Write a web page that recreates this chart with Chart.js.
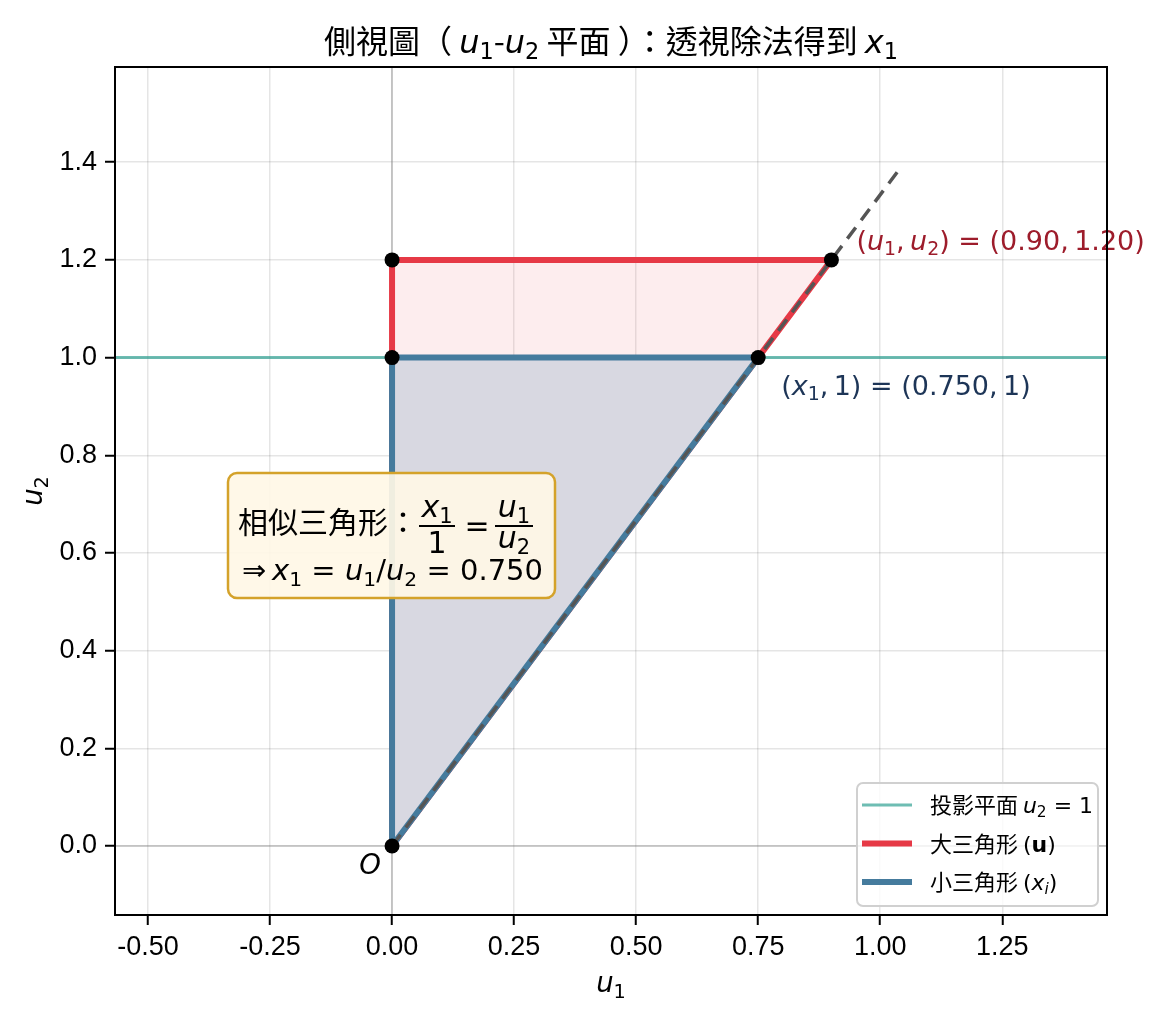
<!DOCTYPE html>
<html>
<head>
<meta charset="utf-8">
<script src="https://cdn.jsdelivr.net/npm/chart.js@4.4.1/dist/chart.umd.min.js"></script>
<style>
  html, body { margin: 0; padding: 0; background: #fff; }
  #wrap { width: 1162px; height: 1019px; }
</style>
</head>
<body>
<div id="wrap"><canvas id="sideView" width="1162" height="1019"></canvas></div>
<script>
// --- data ---
const xTicks = [-0.5, -0.25, 0, 0.25, 0.5, 0.75, 1.0, 1.25];
const yTicks = [0, 0.2, 0.4, 0.6, 0.8, 1.0, 1.2, 1.4];
const xRange = [-0.5675, 1.4645];
const yRange = [-0.1414, 1.595];

const planeU1 = [-0.5675, 1.4645];
const planeU2 = [1, 1];
const bigU1 = [0, 0, 0.9, 0];
const bigU2 = [0, 1.2, 1.2, 0];
const smallU1 = [0, 0, 0.75, 0];
const smallU2 = [0, 1, 1, 0];
const rayU1 = [0, 1.035];
const rayU2 = [0, 1.38];
const pointU1 = [0, 0, 0, 0.75, 0.9];
const pointU2 = [0, 1, 1.2, 1, 1.2];

const RED = '#e63946';
const BLUE = '#457b9d';
const TEAL = 'rgba(42,157,143,0.68)';

const toXY = (xs, ys) => xs.map((x, i) => ({ x: x, y: ys[i] }));

// --- rich text helpers (CJK / italic / subscript) ---
const FAM_CJK = '"Noto Sans CJK TC", "Noto Sans CJK SC", sans-serif';
const FAM_MATH = '"DejaVu Sans", sans-serif';

function partFont(p, size) {
    const s = p.sub ? size * 0.7 : size;
    if (p.f === 'cjk') return `${s}px ${FAM_CJK}`;
    if (p.f === 'it') return `italic ${s}px ${FAM_MATH}`;
    if (p.f === 'bf') return `bold ${s}px ${FAM_MATH}`;
    return `${s}px ${FAM_MATH}`;
}

function richWidth(ctx, parts, size) {
    let w = 0;
    parts.forEach(p => { ctx.font = partFont(p, size); w += ctx.measureText(p.t).width; });
    return w;
}

function drawRich(ctx, parts, x, y, size, color, align) {
    const w = richWidth(ctx, parts, size);
    let cx = align === 'center' ? x - w / 2 : (align === 'right' ? x - w : x);
    ctx.save();
    ctx.fillStyle = color;
    ctx.textBaseline = 'alphabetic';
    ctx.textAlign = 'left';
    parts.forEach(p => {
        ctx.font = partFont(p, size);
        ctx.fillText(p.t, cx, p.sub ? y + size * 0.2 : y);
        cx += ctx.measureText(p.t).width;
    });
    ctx.restore();
    return w;
}

function roundRect(ctx, x, y, w, h, r) {
    ctx.beginPath();
    ctx.moveTo(x + r, y);
    ctx.arcTo(x + w, y, x + w, y + h, r);
    ctx.arcTo(x + w, y + h, x, y + h, r);
    ctx.arcTo(x, y + h, x, y, r);
    ctx.arcTo(x, y, x + w, y, r);
    ctx.closePath();
}

// --- plugins ---
const backgroundPlugin = {
    id: 'axesDecor',
    beforeDatasetsDraw(chart) {
        const { ctx, chartArea: a, scales: { x, y } } = chart;
        ctx.save();
        ctx.strokeStyle = 'rgba(128,128,128,0.45)';
        ctx.lineWidth = 1.6;
        ctx.beginPath();
        ctx.moveTo(a.left, y.getPixelForValue(0));
        ctx.lineTo(a.right, y.getPixelForValue(0));
        ctx.moveTo(x.getPixelForValue(0), a.top);
        ctx.lineTo(x.getPixelForValue(0), a.bottom);
        ctx.stroke();
        ctx.restore();
    },
    afterDatasetsDraw(chart) {
        const { ctx, chartArea: a, scales: { x, y } } = chart;

        // point labels
        const px = v => x.getPixelForValue(v);
        const py = v => y.getPixelForValue(v);
        drawRich(ctx, [
            { t: '(', f: 'rm' }, { t: 'u', f: 'it' }, { t: '1', f: 'rm', sub: true },
            { t: ',\u2009', f: 'rm' }, { t: 'u', f: 'it' }, { t: '2', f: 'rm', sub: true },
            { t: ') = (0.90,\u20091.20)', f: 'rm' }
        ], px(0.9) + 25, py(1.2) - 10, 27, '#9d1c2b', 'left');
        drawRich(ctx, [
            { t: '(', f: 'rm' }, { t: 'x', f: 'it' }, { t: '1', f: 'rm', sub: true },
            { t: ',\u20091) = (0.750,\u20091)', f: 'rm' }
        ], px(0.75) + 23, py(1) + 37, 27, '#1d3557', 'left');
        drawRich(ctx, [{ t: 'O', f: 'it' }], px(0) - 22, py(0) + 28, 27.5, '#000', 'center');

        // similar-triangle box
        const bx = a.left + 113, by = a.top + 406, bw = 327, bh = 125;
        ctx.save();
        roundRect(ctx, bx, by, bw, bh, 9);
        ctx.fillStyle = 'rgba(255,247,230,0.92)';
        ctx.fill();
        ctx.strokeStyle = '#d4a22a';
        ctx.lineWidth = 2.5;
        ctx.stroke();
        ctx.restore();

        const fs = 30;
        drawRich(ctx, [{ t: '相似三角形：', f: 'cjk' }], bx + 10, by + 60, fs, '#000', 'left');
        const f1 = bx + 209, f2 = bx + 286, bar = by + 53;
        drawRich(ctx, [{ t: 'x', f: 'it' }, { t: '1', f: 'rm', sub: true }], f1, by + 44, fs, '#000', 'center');
        drawRich(ctx, [{ t: '1', f: 'rm' }], f1, by + 80, fs, '#000', 'center');
        drawRich(ctx, [{ t: '=', f: 'rm' }], bx + 249, by + 63, fs, '#000', 'center');
        drawRich(ctx, [{ t: 'u', f: 'it' }, { t: '1', f: 'rm', sub: true }], f2, by + 44, fs, '#000', 'center');
        drawRich(ctx, [{ t: 'u', f: 'it' }, { t: '2', f: 'rm', sub: true }], f2, by + 75, fs, '#000', 'center');
        ctx.save();
        ctx.strokeStyle = '#000';
        ctx.lineWidth = 2;
        ctx.beginPath();
        ctx.moveTo(f1 - 18, bar); ctx.lineTo(f1 + 18, bar);
        ctx.moveTo(f2 - 19, bar); ctx.lineTo(f2 + 19, bar);
        ctx.stroke();
        ctx.restore();
        drawRich(ctx, [
            { t: '⇒\u2009', f: 'rm' }, { t: 'x', f: 'it' }, { t: '1', f: 'rm', sub: true },
            { t: ' = ', f: 'rm' }, { t: 'u', f: 'it' }, { t: '1', f: 'rm', sub: true },
            { t: '/', f: 'rm' }, { t: 'u', f: 'it' }, { t: '2', f: 'rm', sub: true },
            { t: ' = 0.750', f: 'rm' }
        ], bx + 14, by + 107, 29, '#000', 'left');

        // legend
        const lx = a.right - 250, ly = a.bottom - 132;
        ctx.save();
        roundRect(ctx, lx, ly, 241, 123, 6);
        ctx.fillStyle = 'rgba(255,255,255,0.8)';
        ctx.fill();
        ctx.strokeStyle = '#d0d0d0';
        ctx.lineWidth = 2;
        ctx.stroke();
        const rows = [
            { color: TEAL, width: 3, parts: [{ t: '投影平面 ', f: 'cjk' }, { t: 'u', f: 'it' }, { t: '2', f: 'rm', sub: true }, { t: ' = 1', f: 'rm' }] },
            { color: RED, width: 6, parts: [{ t: '大三角形 ', f: 'cjk' }, { t: '(', f: 'rm' }, { t: 'u', f: 'bf' }, { t: ')', f: 'rm' }] },
            { color: BLUE, width: 6, parts: [{ t: '小三角形 ', f: 'cjk' }, { t: '(', f: 'rm' }, { t: 'x', f: 'it' }, { t: 'i', f: 'it', sub: true }, { t: ')', f: 'rm' }] }
        ];
        rows.forEach((r, i) => {
            const ry = ly + 22 + i * 38.5;
            ctx.strokeStyle = r.color;
            ctx.lineWidth = r.width;
            ctx.beginPath();
            ctx.moveTo(lx + 5, ry);
            ctx.lineTo(lx + 55, ry);
            ctx.stroke();
            drawRich(ctx, r.parts, lx + 73, ry + 8, 22, '#000', 'left');
        });
        ctx.restore();

        // frame
        ctx.save();
        ctx.strokeStyle = '#000';
        ctx.lineWidth = 2;
        ctx.strokeRect(a.left, a.top, a.right - a.left, a.bottom - a.top);
        ctx.restore();
    },
    afterDraw(chart) {
        const { ctx, chartArea: a } = chart;
        const cx = (a.left + a.right) / 2;
        // title
        drawRich(ctx, [
            { t: '側視圖（ ', f: 'cjk' }, { t: 'u', f: 'it' }, { t: '1', f: 'rm', sub: true },
            { t: '-', f: 'cjk' }, { t: 'u', f: 'it' }, { t: '2', f: 'rm', sub: true },
            { t: ' 平面 ）：透視除法得到 ', f: 'cjk' }, { t: 'x', f: 'it' }, { t: '1', f: 'rm', sub: true }
        ], cx, 53, 32, '#000', 'center');
        // axis titles
        drawRich(ctx, [{ t: 'u', f: 'it' }, { t: '1', f: 'rm', sub: true }], cx, 992, 27.5, '#000', 'center');
        ctx.save();
        ctx.translate(42, (a.top + a.bottom) / 2);
        ctx.rotate(-Math.PI / 2);
        drawRich(ctx, [{ t: 'u', f: 'it' }, { t: '2', f: 'rm', sub: true }], 0, 0, 27.5, '#000', 'center');
        ctx.restore();
    }
};

// --- chart ---
const ctx = document.getElementById('sideView').getContext('2d');
new Chart(ctx, {
    type: 'scatter',
    data: {
        datasets: [
            {
                label: 'points',
                data: toXY(pointU1, pointU2),
                pointRadius: 7.5,
                pointHoverRadius: 7.5,
                pointBackgroundColor: '#000',
                pointBorderWidth: 0,
                showLine: false
            },
            {
                label: 'ray',
                data: toXY(rayU1, rayU2),
                showLine: true,
                borderColor: '#555555',
                borderWidth: 3.5,
                borderDash: [14, 9],
                pointRadius: 0
            },
            {
                label: '小三角形',
                data: toXY(smallU1, smallU2),
                showLine: true,
                borderColor: BLUE,
                borderWidth: 6,
                backgroundColor: 'rgb(216,216,225)',
                fill: 'shape',
                pointRadius: 0,
                borderJoinStyle: 'round'
            },
            {
                label: '大三角形',
                data: toXY(bigU1, bigU2),
                showLine: true,
                borderColor: RED,
                borderWidth: 6,
                backgroundColor: 'rgba(230,57,70,0.09)',
                fill: 'shape',
                pointRadius: 0,
                borderJoinStyle: 'round'
            },
            {
                label: '投影平面',
                data: toXY(planeU1, planeU2),
                showLine: true,
                borderColor: TEAL,
                borderWidth: 3,
                pointRadius: 0
            }
        ]
    },
    options: {
        responsive: false,
        animation: false,
        devicePixelRatio: 1,
        layout: { padding: { top: 67, right: 55, left: 0, bottom: 0 } },
        plugins: {
            legend: { display: false },
            tooltip: { enabled: false },
            title: { display: false }
        },
        scales: {
            x: {
                type: 'linear',
                min: xRange[0],
                max: xRange[1],
                afterBuildTicks: s => { s.ticks = xTicks.map(v => ({ value: v })); },
                afterFit: s => { s.height = 104; },
                ticks: {
                    callback: v => v.toFixed(2),
                    font: { family: '"Liberation Sans", Arial, sans-serif', size: 27 },
                    color: '#000',
                    padding: 6,
                    maxRotation: 0
                },
                grid: {
                    color: 'rgba(0,0,0,0.1)',
                    lineWidth: 1.5,
                    tickColor: '#000',
                    tickLength: 10,
                    tickWidth: 2
                },
                border: { display: false }
            },
            y: {
                type: 'linear',
                min: yRange[0],
                max: yRange[1],
                afterBuildTicks: s => { s.ticks = yTicks.map(v => ({ value: v })); },
                afterFit: s => { s.width = 115; },
                ticks: {
                    callback: v => v.toFixed(1),
                    font: { family: '"Liberation Sans", Arial, sans-serif', size: 27 },
                    color: '#000',
                    padding: 8
                },
                grid: {
                    color: 'rgba(0,0,0,0.1)',
                    lineWidth: 1.5,
                    tickColor: '#000',
                    tickLength: 10,
                    tickWidth: 2
                },
                border: { display: false }
            }
        }
    },
    plugins: [backgroundPlugin]
});
</script>
</body>
</html>
